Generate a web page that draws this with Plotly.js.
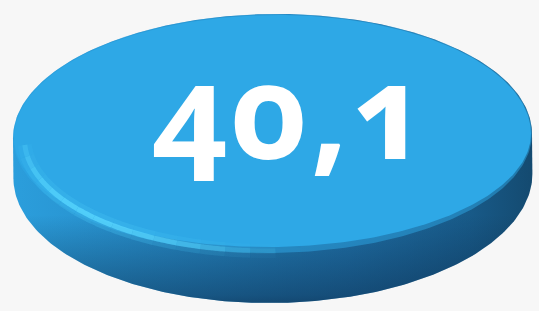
<!DOCTYPE html>
<html>
<head>
<meta charset="utf-8">
<script src="https://cdn.plot.ly/plotly-3.0.1.min.js"></script>
<style>
html,body{margin:0;padding:0;background:#f7f7f7;overflow:hidden;}
#chart{width:539px;height:311px;}
.annotation-text{font-feature-settings:"onum" 1;font-variant-numeric:oldstyle-nums;letter-spacing:3px;}
</style>
</head>
<body>
<div id="chart"></div>
<script>
// ---- data ----
const labels = ["Wert"];
const values = [40.1];
const valueText = values.map(v => String(v).replace('.', ','));

// ---- geometry / style (decoration only) ----
const W = 539, H = 311;
const geo = {cx: 272.5, cyTop: 136, cyBot: 176, rx: 259.5, ryTop: 122, ryBot: 127, tilt: -0.010};
const face = {cy: 136, rx: 258.5, ryUp: 121, ryDown: 111};
const faceSoft = {cy: 136, rx: 259.5, ryUp: 122, ryDown: 117};
const hl = {cy: 137, rx: 248, ry: 114};

function rot(x, y) {
  const dx = x - geo.cx, dy = y - geo.cyTop;
  const c = Math.cos(geo.tilt), s = Math.sin(geo.tilt);
  return [geo.cx + dx * c - dy * s, geo.cyTop + dx * s + dy * c];
}
function arc(cy, rx, ryUp, ryDown, a0, a1, n) {
  const xs = [], ys = [];
  for (let i = 0; i <= n; i++) {
    const a = a0 + (a1 - a0) * i / n;
    const s = Math.sin(a);
    const p = rot(geo.cx + rx * Math.cos(a), cy + s * (s < 0 ? ryUp : ryDown));
    xs.push(p[0]); ys.push(p[1]);
  }
  return {xs, ys};
}
function join(...parts) {
  return {xs: [].concat(...parts.map(p => p.xs)), ys: [].concat(...parts.map(p => p.ys))};
}

const N = 180;
const sil = join(arc(geo.cyTop, geo.rx, geo.ryTop, geo.ryTop, Math.PI, 2 * Math.PI, N),
                 arc(geo.cyBot, geo.rx, geo.ryBot, geo.ryBot, 0, Math.PI, N));
const faceP = arc(face.cy, face.rx, face.ryUp, face.ryDown, 0, 2 * Math.PI, 2 * N);
const faceS = arc(faceSoft.cy, faceSoft.rx, faceSoft.ryUp, faceSoft.ryDown, 0, 2 * Math.PI, 2 * N);

const traces = [];
traces.push({
  type: 'scatter', mode: 'lines', x: sil.xs, y: sil.ys, fill: 'toself', hoverinfo: 'skip',
  line: {width: 0, color: 'rgba(0,0,0,0)'},
  fillgradient: {type: 'horizontal', start: 13, stop: 532,
    colorscale: [[0, '#2b9edc'], [0.3, '#268ac6'], [0.65, '#1f70a7'], [0.88, '#185a88'], [1, '#144a70']]}
});
traces.push({
  type: 'scatter', mode: 'lines', x: sil.xs, y: sil.ys, fill: 'toself', hoverinfo: 'skip',
  line: {width: 0, color: 'rgba(0,0,0,0)'},
  fillgradient: {type: 'vertical', start: 215, stop: 304,
    colorscale: [[0, 'rgba(10,40,72,0)'], [0.5, 'rgba(10,40,72,0.28)'], [0.9, 'rgba(10,40,72,0.5)'], [1, 'rgba(10,40,72,0.62)']]}
});
traces.push({
  type: 'scatter', mode: 'lines', x: faceS.xs, y: faceS.ys, fill: 'toself', hoverinfo: 'skip',
  line: {width: 0, color: 'rgba(0,0,0,0)'}, fillcolor: 'rgba(46,168,230,0.5)'
});
traces.push({
  type: 'scatter', mode: 'lines', x: faceP.xs, y: faceP.ys, fill: 'toself', hoverinfo: 'skip',
  line: {width: 0, color: 'rgba(0,0,0,0)'}, fillcolor: '#2ea8e6'
});
// highlight band on the front edge
const segs = 18, a0 = 0.985 * Math.PI, a1 = 0.40 * Math.PI;
for (let k = 0; k < segs; k++) {
  const s0 = a0 + (a1 - a0) * k / segs, s1 = a0 + (a1 - a0) * (k + 1) / segs;
  const mid = (k + 0.5) / segs;
  const op = Math.pow(Math.sin(Math.PI * Math.min(1, 0.12 + mid * 1.0)), 1.3);
  const p = arc(hl.cy, hl.rx, hl.ry, hl.ry, s0, s1, 8);
  traces.push({type: 'scatter', mode: 'lines', x: p.xs, y: p.ys, hoverinfo: 'skip',
    line: {width: 14, color: '#45c3f3', shape: 'spline'}, opacity: 0.33 * op});
  traces.push({type: 'scatter', mode: 'lines', x: p.xs, y: p.ys, hoverinfo: 'skip',
    line: {width: 5, color: '#5ad8ff', shape: 'spline'}, opacity: 0.75 * op});
}

const layout = {
  width: W, height: H, margin: {l: 0, r: 0, t: 0, b: 0},
  paper_bgcolor: '#f7f7f7', plot_bgcolor: '#f7f7f7', showlegend: false,
  xaxis: {range: [0, W], visible: false, fixedrange: true},
  yaxis: {range: [H, 0], visible: false, fixedrange: true},
  annotations: valueText.map((t, i) => ({
    x: 291, y: 108, xref: 'x', yref: 'y', text: t, showarrow: false,
    xanchor: 'center', yanchor: 'middle',
    font: {family: 'Noto Sans', size: 131, color: '#ffffff', weight: 700}
  }))
};
Plotly.newPlot('chart', traces, layout, {staticPlot: true, displayModeBar: false});
</script>
</body>
</html>
